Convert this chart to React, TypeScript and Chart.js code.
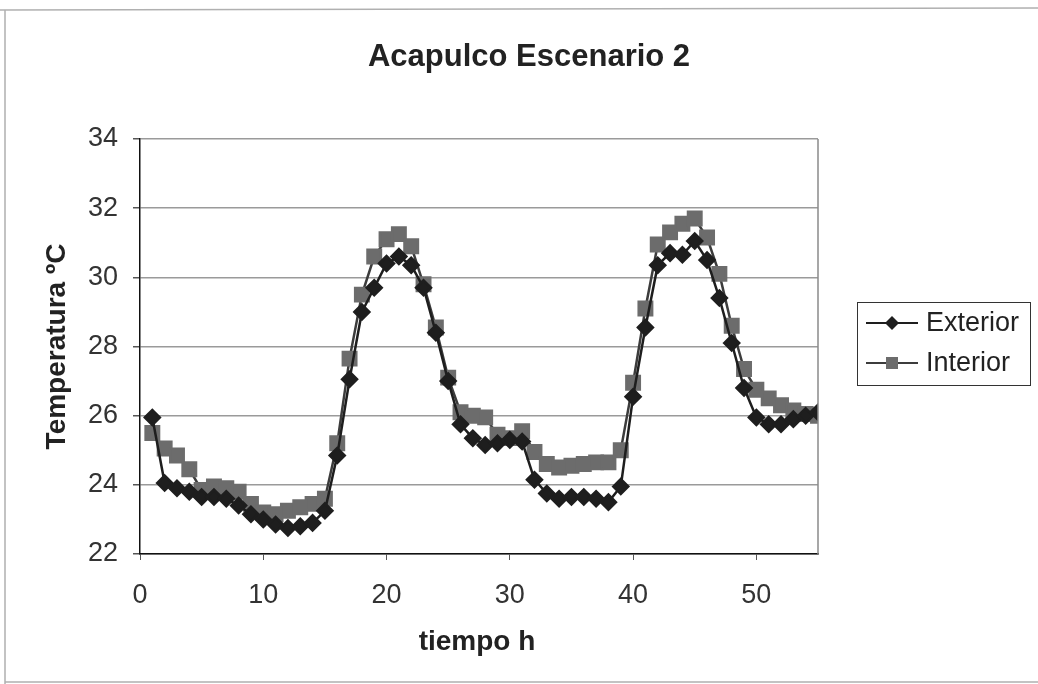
import React, { useEffect, useRef } from "react";
import { Chart, registerables } from "chart.js";

Chart.register(...registerables);

const TITLE = "Acapulco Escenario 2";
const X_TITLE = "tiempo h";
const Y_TITLE = "Temperatura ºC";
const SERIES_NAMES = ["Exterior", "Interior"];

const hours = [
  1, 2, 3, 4, 5, 6, 7, 8, 9, 10, 11, 12, 13, 14, 15, 16, 17, 18, 19, 20,
  21, 22, 23, 24, 25, 26, 27, 28, 29, 30, 31, 32, 33, 34, 35, 36, 37, 38, 39, 40,
  41, 42, 43, 44, 45, 46, 47, 48, 49, 50, 51, 52, 53, 54, 55,
];

const exterior = [
  25.95, 24.05, 23.9, 23.8, 23.65, 23.65, 23.6, 23.4, 23.15, 23.0,
  22.85, 22.75, 22.8, 22.9, 23.25, 24.85, 27.05, 29.0, 29.7, 30.4,
  30.6, 30.35, 29.7, 28.4, 27.0, 25.75, 25.35, 25.15, 25.2, 25.3,
  25.25, 24.15, 23.75, 23.6, 23.65, 23.65, 23.6, 23.5, 23.95, 26.55,
  28.55, 30.35, 30.7, 30.65, 31.05, 30.5, 29.4, 28.1, 26.8, 25.95,
  25.75, 25.75, 25.9, 26.0, 26.1,
];

const interior = [
  25.5, 25.05, 24.85, 24.45, 23.85, 23.95, 23.9, 23.8, 23.45, 23.2,
  23.15, 23.25, 23.35, 23.45, 23.6, 25.2, 27.65, 29.5, 30.6, 31.1,
  31.25, 30.9, 29.8, 28.55, 27.1, 26.1, 26.0, 25.95, 25.45, 25.35,
  25.55, 24.95, 24.6, 24.5, 24.55, 24.6, 24.65, 24.65, 25.0, 26.95,
  29.1, 30.95, 31.3, 31.55, 31.7, 31.15, 30.1, 28.6, 27.35, 26.75,
  26.5, 26.3, 26.15, 26.05, 26.0,
];

const xTickValues = [0, 10, 20, 30, 40, 50];
const yMin = 22;
const yMax = 34;
const yStep = 2;
const xMin = 0;
const xMax = 55;

const EXT_COLOR = "#1e1e1e";
const INT_COLOR = "#6c6c6c";
const INT_LINE = "#3c3c3c";
const FONT = "Arial, 'Liberation Sans', sans-serif";

const decorPlugin = {
  id: "decor",
  afterDraw(chart: any) {
    const ctx = chart.ctx as CanvasRenderingContext2D;
    const area = chart.chartArea;
    ctx.save();
    // scan frame
    ctx.strokeStyle = "#b0b0b0";
    ctx.lineWidth = 1.5;
    ctx.beginPath();
    ctx.moveTo(0, 10);
    ctx.lineTo(1038, 8);
    ctx.moveTo(5, 10);
    ctx.lineTo(5, 684);
    ctx.moveTo(5, 682);
    ctx.lineTo(1038, 682);
    ctx.stroke();

    // right border of plot
    ctx.strokeStyle = "#8a8a8a";
    ctx.lineWidth = 1.5;
    ctx.beginPath();
    ctx.moveTo(area.right, area.top);
    ctx.lineTo(area.right, area.bottom);
    ctx.stroke();

    // title
    ctx.fillStyle = "#222";
    ctx.textAlign = "center";
    ctx.textBaseline = "alphabetic";
    ctx.font = `bold 31px ${FONT}`;
    ctx.fillText(TITLE, 529, 66);

    // x title
    ctx.font = `bold 28px ${FONT}`;
    ctx.fillText(X_TITLE, (area.left + area.right) / 2 - 2, 650);

    // y title
    ctx.save();
    ctx.translate(65, (area.top + area.bottom) / 2);
    ctx.rotate(-Math.PI / 2);
    ctx.fillText(Y_TITLE, 0, 0);
    ctx.restore();

    // legend
    const lx = 857, ly = 302, lw = 173, lh = 83;
    ctx.strokeStyle = "#333";
    ctx.lineWidth = 1;
    ctx.strokeRect(lx + 0.5, ly + 0.5, lw, lh);
    const rows = [
      { name: SERIES_NAMES[0], y: 323, color: EXT_COLOR, line: EXT_COLOR, shape: "diamond" },
      { name: SERIES_NAMES[1], y: 363, color: INT_COLOR, line: INT_LINE, shape: "square" },
    ];
    ctx.font = `27px ${FONT}`;
    ctx.textAlign = "left";
    ctx.textBaseline = "middle";
    for (const r of rows) {
      ctx.strokeStyle = r.line;
      ctx.lineWidth = 2;
      ctx.beginPath();
      ctx.moveTo(866, r.y);
      ctx.lineTo(918, r.y);
      ctx.stroke();
      ctx.fillStyle = r.color;
      ctx.beginPath();
      if (r.shape === "diamond") {
        ctx.moveTo(892, r.y - 7);
        ctx.lineTo(899, r.y);
        ctx.lineTo(892, r.y + 7);
        ctx.lineTo(885, r.y);
        ctx.closePath();
      } else {
        ctx.rect(886, r.y - 6, 12, 12);
      }
      ctx.fill();
      ctx.fillStyle = "#222";
      ctx.fillText(r.name, 926, r.y + 1);
    }
    ctx.restore();
  },
};

export default function App() {
  const canvasRef = useRef<HTMLCanvasElement | null>(null);

  useEffect(() => {
    document.body.style.margin = "0";
    const canvas = canvasRef.current;
    if (!canvas) return;
    const chart = new Chart(canvas, {
      type: "line",
      data: {
        datasets: [
          {
            label: SERIES_NAMES[0],
            data: hours.map((h, i) => ({ x: h, y: exterior[i] })),
            borderColor: EXT_COLOR,
            backgroundColor: EXT_COLOR,
            pointBackgroundColor: EXT_COLOR,
            pointBorderColor: EXT_COLOR,
            pointStyle: "rectRot",
            pointRadius: 7.5,
            borderWidth: 2.5,
            tension: 0,
            order: 1,
          },
          {
            label: SERIES_NAMES[1],
            data: hours.map((h, i) => ({ x: h, y: interior[i] })),
            borderColor: INT_LINE,
            backgroundColor: INT_COLOR,
            pointBackgroundColor: INT_COLOR,
            pointBorderColor: INT_COLOR,
            pointStyle: "rect",
            pointRadius: 9.5,
            borderWidth: 2.5,
            tension: 0,
            order: 2,
          },
        ],
      },
      options: {
        animation: false,
        responsive: false,
        maintainAspectRatio: false,
        layout: { padding: { top: 139, right: 220, bottom: 0, left: 0 } },
        plugins: {
          legend: { display: false },
          title: { display: false },
          tooltip: { enabled: false },
        },
        scales: {
          x: {
            type: "linear",
            min: xMin,
            max: xMax,
            afterFit: (scale: any) => {
              scale.height = 130;
            },
            afterBuildTicks: (scale: any) => {
              scale.ticks = xTickValues.map((v) => ({ value: v }));
            },
            ticks: {
              font: { family: FONT, size: 27 },
              color: "#333",
              padding: 19,
              maxRotation: 0,
            },
            grid: {
              drawOnChartArea: false,
              drawTicks: true,
              tickLength: 6,
              tickColor: "#555",
            },
            border: { color: "#111", width: 1.5 },
          },
          y: {
            type: "linear",
            min: yMin,
            max: yMax,
            afterFit: (scale: any) => {
              scale.width = 140;
            },
            ticks: {
              stepSize: yStep,
              font: { family: FONT, size: 27 },
              color: "#333",
              padding: 15,
            },
            grid: {
              color: "#9a9a9a",
              lineWidth: 1.5,
              drawTicks: true,
              tickLength: 7,
              tickColor: "#555",
            },
            border: { color: "#111", width: 1.5 },
          },
        },
      },
      plugins: [decorPlugin],
    });
    return () => chart.destroy();
  }, []);

  return (
    <div style={{ width: 1038, height: 684, background: "#fff" }}>
      <canvas ref={canvasRef} width={1038} height={684} style={{ display: "block" }} />
    </div>
  );
}
